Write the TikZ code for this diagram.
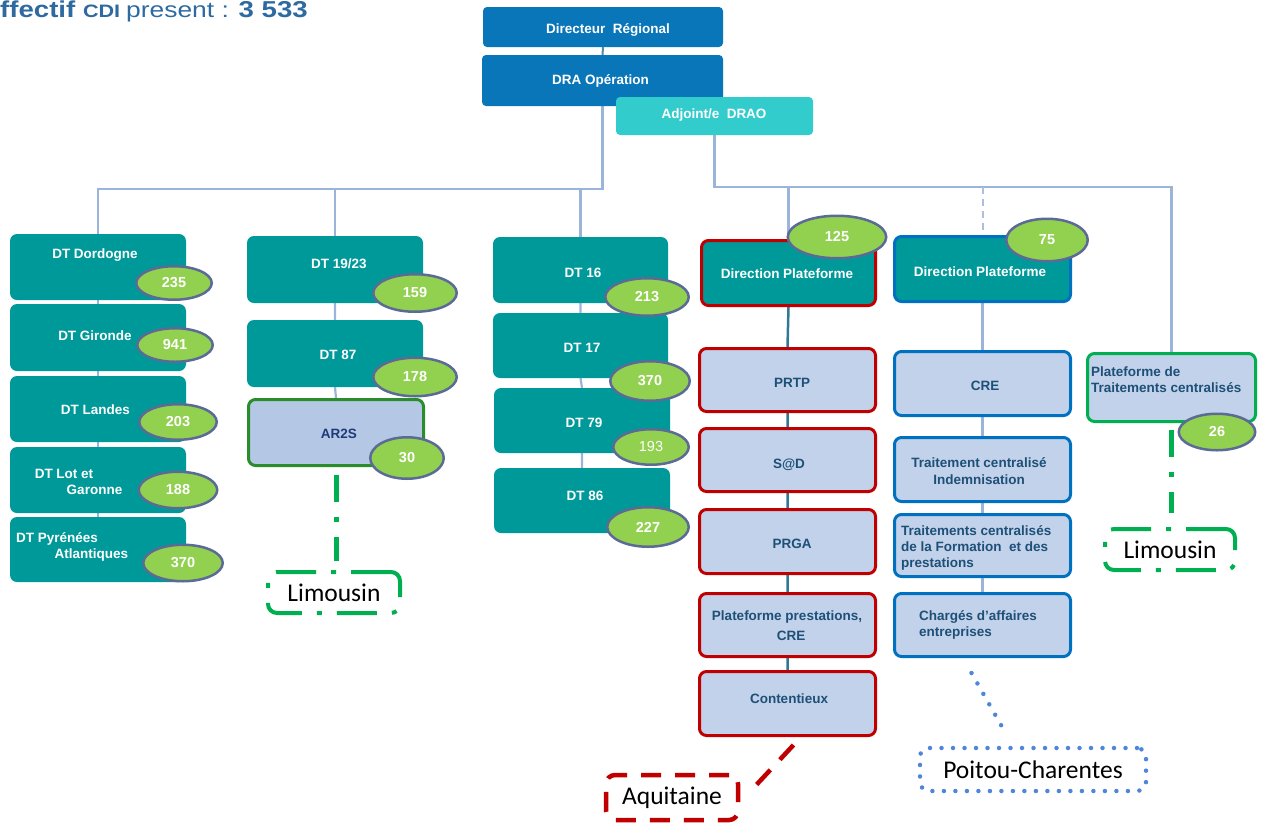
\documentclass[tikz,border=0pt]{standalone}
\usepackage{fontspec}
\setmainfont{Liberation Sans}
\newfontfamily\titlefont{Liberation Sans}[FakeStretch=1.2]
\newfontfamily\labelfont{Carlito}
\usetikzlibrary{calc,shapes.geometric}

\definecolor{drablue}{HTML}{0A76BA}
\definecolor{turq}{HTML}{33CCCC}
\definecolor{tealfill}{HTML}{009999}
\definecolor{paleblue}{HTML}{C2D2EA}
\definecolor{arfill}{HTML}{B4C8E6}
\definecolor{redline}{HTML}{C00000}
\definecolor{blueline}{HTML}{0070C0}
\definecolor{greenline}{HTML}{00B050}
\definecolor{darkgreen}{HTML}{2A8C2A}
\definecolor{busline}{HTML}{9BB5DA}
\definecolor{chainteal}{HTML}{317896}
\definecolor{numfill}{HTML}{92D050}
\definecolor{numedge}{HTML}{5B6B96}
\definecolor{boxtext}{HTML}{1E5077}
\definecolor{navytext}{HTML}{1F3A78}
\definecolor{titleblue}{HTML}{2E6AA0}
\definecolor{dotblue}{HTML}{4F86D9}

\pgfdeclarelayer{background}
\pgfsetlayers{background,main}

\tikzset{
  sz/.style 2 args={minimum width=#1pt, minimum height=#2pt},
  box/.style={rectangle, rounded corners=7pt, inner sep=0pt},
  topbox/.style={box, rounded corners=4pt, fill=drablue},
  adjbox/.style={box, rounded corners=4pt, fill=turq},
  tealbox/.style={box, fill=tealfill},
  reddp/.style={box, fill=tealfill, draw=redline, line width=3pt},
  bluedp/.style={box, fill=tealfill, draw=blueline, line width=3pt},
  redbox/.style={box, fill=paleblue, draw=redline, line width=3pt},
  bluebox/.style={box, fill=paleblue, draw=blueline, line width=3pt},
  greenbox/.style={box, fill=paleblue, draw=greenline, line width=3pt},
  arbox/.style={box, fill=arfill, draw=darkgreen, line width=3pt},
  num/.style={ellipse, fill=numfill, draw=numedge, line width=2.5pt, inner sep=0pt,
    text=white, font=\fontsize{14.5}{14.5}\selectfont\bfseries},
  wt/.style={anchor=base, inner sep=0pt, text=white, font=\fontsize{13.5}{16}\selectfont\bfseries},
  dt/.style={wt, text=boxtext},
  dtl/.style={dt, anchor=base west},
  bus/.style={draw=busline, line width=2.2pt},
  chain/.style={draw=chainteal, line width=2.5pt},
  regionlbl/.style={rectangle, rounded corners=9pt, inner sep=0pt, text=black,
    font=\labelfont\fontsize{25.5}{25.5}\selectfont},
  limbox/.style={regionlbl, draw=greenline, line width=4pt,
    dash pattern=on 40pt off 15pt on 5pt off 15pt},
  aqubox/.style={regionlbl, draw=redline, line width=4.5pt, dash pattern=on 20pt off 14pt},
  poibox/.style={regionlbl, draw=dotblue, line width=4.5pt, line cap=round,
    dash pattern=on 0pt off 11.5pt},
  dashdot/.style={draw=greenline, line width=5pt, dash pattern=on 27pt off 15pt on 5pt off 15pt},
  aqline/.style={draw=redline, line width=4.5pt, dash pattern=on 20pt off 14pt},
  dotline/.style={draw=dotblue, line width=4.5pt, line cap=round, dash pattern=on 0pt off 12pt}
}

\begin{document}
\begin{tikzpicture}[x=1pt,y=-1pt]
\useasboundingbox (0,0) rectangle (1264,825);

% heading
\node[anchor=base west, inner sep=0pt, text=titleblue] (title) at (-18.4,17)
  {\titlefont\fontsize{23}{23}\selectfont\bfseries Effectif
   \fontsize{18}{18}\selectfont CDI
   \mdseries\fontsize{22}{22}\selectfont present :
   \bfseries\fontsize{23}{23}\selectfont 3 533};

% management
\node[topbox, sz={240}{40}] (dirreg) at (603,27) {};
\node[topbox, sz={241}{51}] (draop) at (602.5,80.5) {};
\node[adjbox, sz={197}{38}] (adj) at (714.5,116) {};

% DT column 1
\node[tealbox, sz={176}{66}] (dord) at (98,267) {};
\node[tealbox, sz={176}{67}] (gir) at (98,337.5) {};
\node[tealbox, sz={176}{66}] (land) at (98,409) {};
\node[tealbox, sz={176}{66}] (lot) at (98,480) {};
\node[tealbox, sz={176}{65}] (pyr) at (98,549.5) {};

% DT column 2
\node[tealbox, sz={176}{67}] (dt1923) at (335,269.5) {};
\node[tealbox, sz={176}{67}] (dt87) at (335,353.5) {};
\node[arbox, sz={175}{66}] (ar2s) at (336,432.5) {};

% DT column 3
\node[tealbox, sz={175}{66}] (dt16) at (580.5,270) {};
\node[tealbox, sz={175}{65}] (dt17) at (580.5,345.5) {};
\node[tealbox, sz={176}{65}] (dt79) at (582,420.5) {};
\node[tealbox, sz={176}{65}] (dt86) at (582,500.5) {};

% platform 1
\node[reddp, sz={174}{65}] (dp1) at (788.5,273) {};
\node[redbox, sz={176}{63}] (prtp) at (787.5,380) {};
\node[redbox, sz={176}{63}] (sad) at (787.5,460) {};
\node[redbox, sz={176}{64}] (prga) at (787.5,541.5) {};
\node[redbox, sz={176}{63}] (ppc) at (787.5,625) {};
\node[redbox, sz={176}{64}] (cont) at (787.5,703.5) {};

% platform 2
\node[bluedp, sz={176}{65}] (dp2) at (982.5,269) {};
\node[bluebox, sz={176}{64}] (cre) at (982.5,383.5) {};
\node[bluebox, sz={176}{64}] (tci) at (982.5,469.5) {};
\node[bluebox, sz={176}{62}] (tcf) at (982.5,545.5) {};
\node[bluebox, sz={176}{63}] (cae) at (982.5,625) {};

% central processing
\node[greenbox, sz={168}{68}] (ptc) at (1171.5,387.5) {};

% regions
\node[limbox, sz={132}{41}] (lim1) at (334,592.5) {Limousin};
\node[limbox, sz={130}{41}] (lim2) at (1170,549.5) {Limousin};
\node[aqubox, sz={132}{45}] (aqu) at (672,797.5) {Aquitaine};
\node[poibox, sz={226}{43}] (poi) at (1033,769.5) {Poitou-Charentes};

% connectors
\begin{pgfonlayer}{background}
  \draw[draw=chainteal!85, line width=2pt] (dirreg.south) -- (draop.north);
  \coordinate (jl) at (602.5,189);
  \coordinate (jr) at (714.5,187);
  \draw[bus] (draop.south) -- (jl) -| (dord.north);
  \draw[bus] (jl -| dt1923.north) -- (dt1923.north);
  \draw[bus] (jl -| dt16.north) -- (dt16.north);
  \draw[bus] (adj.south) -- (jr) -| (ptc.north);
  \draw[bus] (jr -| dp1.north) -- (dp1.north);
  \draw[draw=busline!85, line width=2pt, dash pattern=on 7pt off 5pt] (jr -| dp2.north) -- (dp2.north);
  \draw[bus] (dord.south) -- (gir.north) (gir.south) -- (land.north)
             (land.south) -- (lot.north) (lot.south) -- (pyr.north);
  \draw[bus] (dt1923.south) -- (dt87.north) (dt87.south) -- (ar2s.north);
  \draw[bus] (dt16.south) -- (dt17.north) (dt17.south) -- (dt79.north) (dt79.south) -- (dt86.north);
  \draw[chain] (dp1.south) -- (prtp.north) (prtp.south) -- (sad.north) (sad.south) -- (prga.north)
               (prga.south) -- (ppc.north) (ppc.south) -- (cont.north);
  \draw[bus] (dp2.south) -- (cre.north) (cre.south) -- (tci.north) (tci.south) -- (tcf.north)
             (tcf.south) -- (cae.north);
\end{pgfonlayer}
\draw[dashdot, shorten <=7.5pt, shorten >=9pt] (ar2s.south) -- (ar2s.south |- lim1.north);
\draw[dashdot, shorten <=6.5pt, shorten >=14pt] (ptc.south) -- (ptc.south |- lim2.north);
\draw[aqline] ($(cont.south)+(6,8)$) -- ($(aqu.east)+(9,-5)$);
\draw[dotline] ($(cae.south)+(-11,15)$) -- ($(poi.north)+(-31,-19)$);

% staff counts
\node[num, sz={75.5}{33.5}] (n235) at (174,283) {235};
\node[num, sz={75.5}{33.5}] (n941) at (175,345) {941};
\node[num, sz={77.5}{35.5}] (n203) at (178,422) {203};
\node[num, sz={78.5}{36.5}] (n188) at (178,490) {188};
\node[num, sz={79.5}{36.5}] (n370a) at (183,563) {370};
\node[num, sz={83.5}{37.5}] (n159) at (415,293) {159};
\node[num, sz={83.5}{38.5}] (n178) at (415,377) {178};
\node[num, sz={73.5}{41.5}] (n30) at (407,458) {30};
\node[num, sz={83.5}{37.5}] (n213) at (647,297) {213};
\node[num, sz={79.5}{39.5}] (n370b) at (650,381) {370};
\node[num, sz={75.5}{35.5}, font=\fontsize{14.5}{14.5}\selectfont] (n193) at (651,447) {193};
\node[num, sz={81.5}{39.5}] (n227) at (648,527) {227};
\node[num, sz={98.5}{42.5}] (n125) at (837,237) {125};
\node[num, sz={81.5}{42.5}] (n75) at (1047,240) {75};
\node[num, sz={76.5}{36.5}] (n26) at (1217,432) {26};

% box texts
\node[wt] (t-dirreg) at (608,33) {Directeur\ \ Régional};
\node[wt] (t-draop) at (600.5,84) {DRA Opération};
\node[wt] (t-adj) at (714,118) {Adjoint/e\ \ DRAO};

\node[wt] (t-dord) at (95,258) {DT Dordogne};
\node[wt] (t-gir) at (95,340) {DT Gironde};
\node[wt] (t-land) at (95.5,414) {DT Landes};
\node[wt] (t-lot1) at (64,478) {DT Lot et};
\node[wt] (t-lot2) at (94.5,494) {Garonne};
\node[wt] (t-pyr1) at (57,542) {DT Pyrénées};
\node[wt] (t-pyr2) at (91.5,558) {Atlantiques};

\node[wt] (t-1923) at (339,268) {DT 19/23};
\node[wt] (t-87) at (338,359) {DT 87};
\node[wt, text=navytext] (t-ar2s) at (339,438) {AR2S};

\node[wt] (t-16) at (583,277) {DT 16};
\node[wt] (t-17) at (582,352) {DT 17};
\node[wt] (t-79) at (584,427) {DT 79};
\node[wt] (t-86) at (585,500) {DT 86};

\node[wt] (t-dp1) at (787,278) {Direction Plateforme};
\node[dt] (t-prtp) at (792,387) {PRTP};
\node[dt] (t-sad) at (789,468) {S@D};
\node[dt] (t-prga) at (792,548) {PRGA};
\node[dt] (t-ppc1) at (787,620) {Plateforme prestations,};
\node[dt] (t-ppc2) at (791,640) {CRE};
\node[dt] (t-cont) at (789,703) {Contentieux};

\node[wt] (t-dp2) at (980,276) {Direction Plateforme};
\node[dt] (t-cre) at (985,390) {CRE};
\node[dt] (t-tci1) at (979,467) {Traitement centralisé};
\node[dt] (t-tci2) at (979,484) {Indemnisation};
\node[dtl] (t-tcf1) at (901,535) {Traitements centralisés};
\node[dtl] (t-tcf2) at (901,551) {de la Formation\ \ et des};
\node[dtl] (t-tcf3) at (901,567) {prestations};
\node[dtl] (t-cae1) at (919,620) {Chargés d'affaires};
\node[dtl] (t-cae2) at (919,636) {entreprises};

\node[dtl] (t-ptc1) at (1091,376) {Plateforme de};
\node[dtl] (t-ptc2) at (1091,392) {Traitements centralisés};
\end{tikzpicture}
\end{document}
